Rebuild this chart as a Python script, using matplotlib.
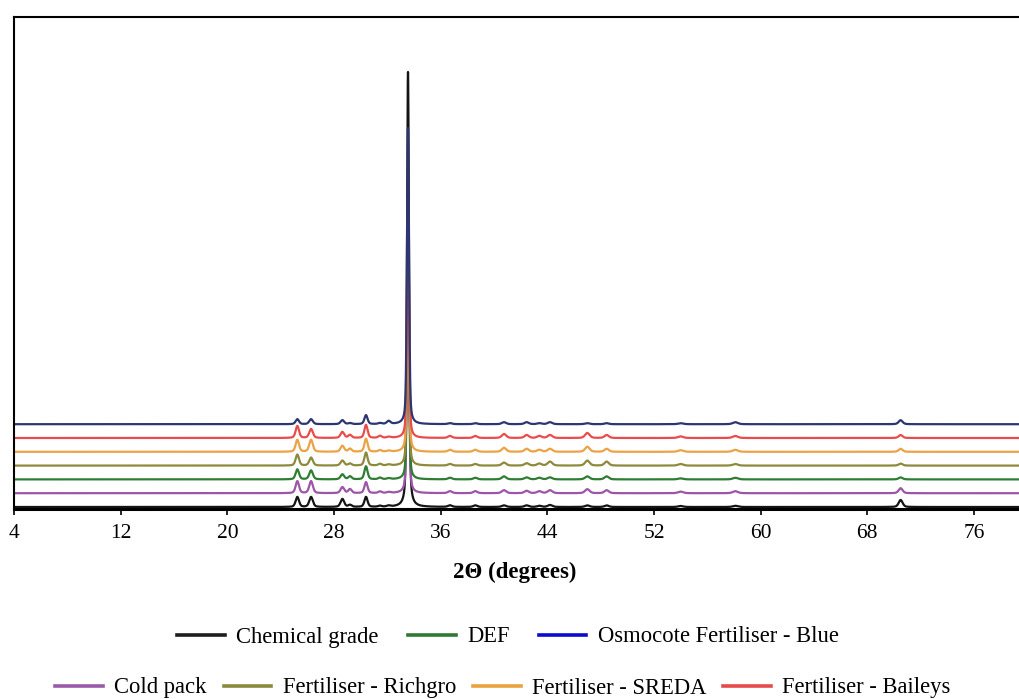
import numpy as np
import matplotlib.pyplot as plt
from matplotlib.lines import Line2D

plt.rcParams['font.family'] = ['Liberation Serif', 'DejaVu Serif']

# Diffraction peak positions (2-theta, degrees) and their widths (FWHM, degrees)
peak_positions = [25.25, 26.28, 28.63, 29.2, 30.4, 31.45, 32.1, 33.55, 36.7, 38.6,
                  40.75, 42.45, 43.4, 44.2, 47.0, 48.45, 54.0, 58.1, 70.5]
peak_widths = [0.3, 0.32, 0.32, 0.3, 0.28, 0.3, 0.32, 0.18, 0.35, 0.35,
               0.38, 0.38, 0.38, 0.4, 0.4, 0.38, 0.45, 0.45, 0.35]

# Peak intensities (counts) for each sample, same order as peak_positions
chemical_grade = [500, 500, 400, 100, 500, 50, 50, 21750, 80, 80,
                  80, 80, 60, 100, 80, 80, 50, 60, 350]
cold_pack = [600, 600, 300, 200, 550, 80, 50, 12500, 100, 100,
             150, 120, 100, 150, 200, 150, 80, 100, 250]
def_sample = [500, 450, 250, 150, 650, 80, 50, 11500, 80, 80,
              150, 100, 80, 100, 150, 150, 50, 80, 100]
richgro = [550, 400, 250, 100, 650, 80, 50, 11000, 80, 80,
           150, 120, 100, 200, 250, 200, 80, 80, 100]
sreda = [600, 600, 300, 150, 650, 80, 50, 11500, 100, 100,
         200, 150, 100, 150, 250, 150, 80, 100, 150]
baileys = [600, 450, 300, 150, 650, 100, 50, 12000, 100, 100,
           200, 150, 100, 150, 250, 150, 80, 100, 150]
osmocote_blue = [250, 250, 200, 50, 450, 50, 150, 14800, 50, 50,
                 100, 100, 50, 100, 50, 50, 50, 100, 200]

series_names = ["Chemical grade", "Cold pack", "DEF", "Fertiliser - Richgro",
                "Fertiliser - SREDA", "Fertiliser - Baileys", "Osmocote Fertiliser - Blue"]
series_values = [chemical_grade, cold_pack, def_sample, richgro, sreda, baileys, osmocote_blue]
line_colors = ['#141414', '#9d55a8', '#2f7d32', '#8d8a3c', '#eba345', '#ea4c4c', '#2c3672']
legend_colors = {"Chemical grade": '#1e1e1e', "DEF": '#2e7a33',
                 "Osmocote Fertiliser - Blue": '#0a0ad0', "Cold pack": '#9b5aa8',
                 "Fertiliser - Richgro": '#8b8a3a', "Fertiliser - SREDA": '#eaa23f',
                 "Fertiliser - Baileys": '#e84a4a'}

base_offset = 100
stack_step = 690

two_theta = np.linspace(4, 80, 15201)


def pattern(intensities):
    """Pseudo-Voigt sum over the peak list."""
    y = np.zeros_like(two_theta)
    for pos, w, h in zip(peak_positions, peak_widths, intensities):
        g = np.exp(-4 * np.log(2) * ((two_theta - pos) / w) ** 2)
        lz = 1.0 / (1.0 + 4 * ((two_theta - pos) / w) ** 2)
        y += h * (0.6 * g + 0.4 * lz)
    return y


fig = plt.figure(figsize=(10.19, 6.99), dpi=100)
W, H = 1019, 699
ax = fig.add_axes([14 / W, (H - 509) / H, 1013.3 / W, 492 / H])

for i, (name, vals, col) in enumerate(zip(series_names, series_values, line_colors)):
    ax.plot(two_theta, pattern(vals) + base_offset + i * stack_step,
            color=col, lw=1.6, solid_joinstyle='round')

ax.set_xlim(4, 80)
ax.set_ylim(0, 24600)
ax.set_xticks(np.arange(4, 80, 8))
ax.set_yticks([])
ax.tick_params(axis='x', direction='out', length=4, width=1.2, pad=7, labelsize=15.5)
for s in ['left', 'top', 'right']:
    ax.spines[s].set_linewidth(1.5)
ax.spines['bottom'].set_linewidth(2.2)

ax.set_xlabel('2Θ (degrees)', fontsize=16.5, fontweight='bold')
ax.xaxis.set_label_coords((515 - 14) / 1013.3, -(572 - 509) / 492, transform=ax.transAxes)
ax.xaxis.label.set_verticalalignment('center')


def handles(names):
    return [Line2D([0], [0], color=legend_colors[n], lw=2.6) for n in names]


row1 = ["Chemical grade", "DEF", "Osmocote Fertiliser - Blue"]
row2 = ["Cold pack", "Fertiliser - Richgro", "Fertiliser - SREDA", "Fertiliser - Baileys"]
leg_kw = dict(loc='center', frameon=False, fontsize=16.3, handlelength=2.1,
              handletextpad=0.5, borderpad=0, borderaxespad=0)
fig.legend(handles(row1), row1, ncol=3, columnspacing=1.3,
           bbox_to_anchor=(508 / W, 1 - 637 / H), **leg_kw)
fig.legend(handles(row2), row2, ncol=4, columnspacing=0.75,
           bbox_to_anchor=(503 / W, 1 - 688 / H), **leg_kw)

fig.savefig('out.png', dpi=100)
